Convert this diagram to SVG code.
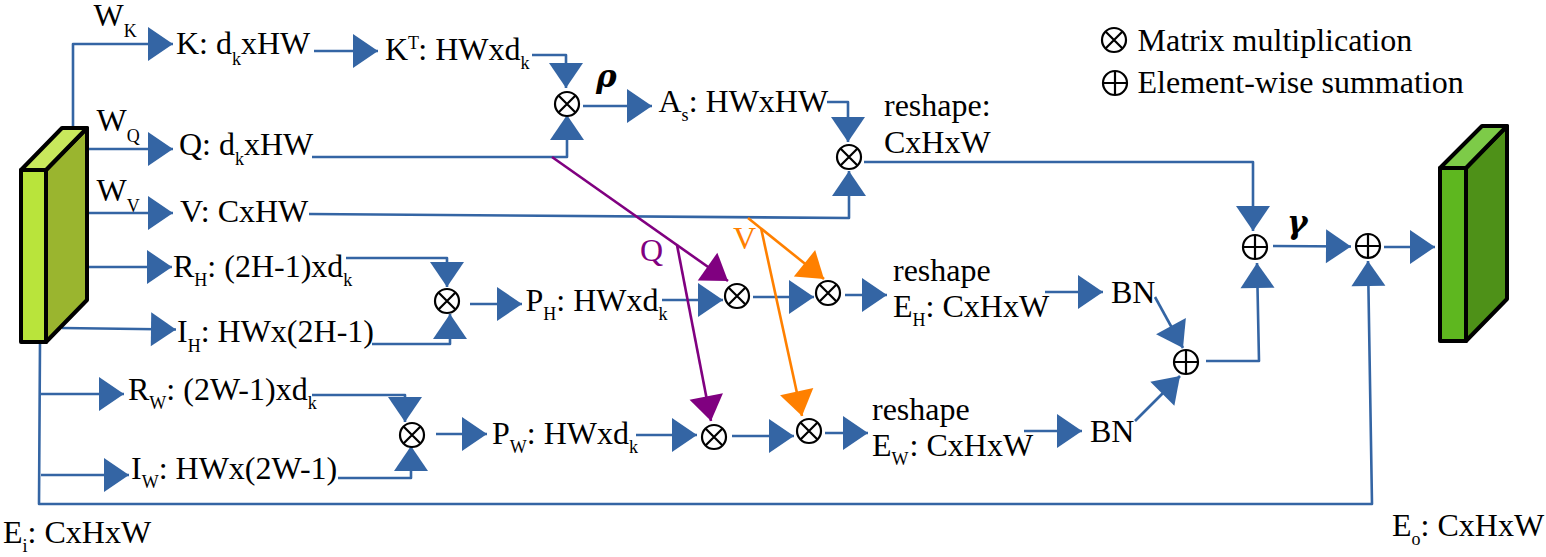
<svg xmlns="http://www.w3.org/2000/svg" width="1546" height="557" viewBox="0 0 1546 557">
<style>
text{font-family:"Liberation Serif","Times New Roman",serif;font-size:32px;fill:#000}
.s{font-size:18px}
.greek{font-family:"DejaVu Serif",serif;font-weight:bold;font-style:italic;font-size:31px}
.c{fill:none;stroke:#3465a4;stroke-width:2.6;stroke-linejoin:round}
.p{fill:none;stroke:#800080;stroke-width:2.6}
.o{fill:none;stroke:#ff8000;stroke-width:2.6}
.ring{fill:#fff;stroke:#000;stroke-width:2.2}
.edge{stroke:#000;stroke-width:4;stroke-linejoin:round}
marker{overflow:visible}
</style>
<defs>
<marker id="ab" markerUnits="userSpaceOnUse" markerWidth="28" markerHeight="36" refX="25" refY="18" orient="auto"><path d="M0 1L25 18L0 35Z" fill="#3465a4"/></marker>
<marker id="ap" markerUnits="userSpaceOnUse" markerWidth="28" markerHeight="36" refX="25" refY="18" orient="auto"><path d="M0 1L25 18L0 35Z" fill="#800080"/></marker>
<marker id="ao" markerUnits="userSpaceOnUse" markerWidth="28" markerHeight="36" refX="25" refY="18" orient="auto"><path d="M0 1L25 18L0 35Z" fill="#ff8000"/></marker>
<g id="mul"><circle class="ring" r="12"/><path d="M-8.500 -8.500L8.500 8.500M-8.500 8.500L8.500 -8.500" stroke="#000" stroke-width="2.200" fill="none"/></g>
<g id="add"><circle class="ring" r="12"/><path d="M-12 0H12M0 -12V12" stroke="#000" stroke-width="2.200" fill="none"/></g>
</defs>
<rect width="1546" height="557" fill="#fff"/>
<g id="connectors">
<g marker-end="url(#ab)">
<path class="c" d="M73 128V44H173"/>
<path class="c" d="M314 51H378"/>
<path class="c" d="M88 149H173"/>
<path class="c" d="M88 213H173"/>
<path class="c" d="M88 267H172"/>
<path class="c" d="M62 328L176 329.500"/>
<path class="c" d="M41 394H124"/>
<path class="c" d="M41 475H129"/>
<path class="c" d="M40 342L39 504H1372L1368 261"/>
<path class="c" d="M346 258H447V287"/>
<path class="c" d="M372 344H450V314"/>
<path class="c" d="M312 395H405V422"/>
<path class="c" d="M338 478H411V446"/>
<path class="c" d="M532 55H566V88"/>
<path class="c" d="M312 157H567V115"/>
<path class="c" d="M583 106H652"/>
<path class="c" d="M827 102H848V142"/>
<path class="c" d="M309 214L849 218V171"/>
<path class="c" d="M864 162H1253V231"/>
<path class="c" d="M470 304H522"/>
<path class="c" d="M662 300H723"/>
<path class="c" d="M753 297H814"/>
<path class="c" d="M845 295H887"/>
<path class="c" d="M436 434H487"/>
<path class="c" d="M636 435H697"/>
<path class="c" d="M732 436H794"/>
<path class="c" d="M825 433H868"/>
<path class="c" d="M1045 292H1103"/>
<path class="c" d="M1024 431H1082"/>
<path class="c" d="M1155 297L1183 348"/>
<path class="c" d="M1135 421L1180 376"/>
<path class="c" d="M1206 361H1259L1257 263"/>
<path class="c" d="M1273 246L1351 246.500"/>
<path class="c" d="M1384 247H1435"/>
</g>
<path class="p" d="M552 157L728 281" marker-end="url(#ap)"/>
<path class="p" d="M677 245L711 421" marker-end="url(#ap)"/>
<path class="o" d="M748 218L824 279" marker-end="url(#ao)"/>
<path class="o" d="M761 228L802 416" marker-end="url(#ao)"/>
</g>
<g id="input-tensor">
<path class="edge" d="M46 170L87 128V300L46 342Z" fill="#9ab52f"/>
<path class="edge" d="M21 170L62 128H87L46 170Z" fill="#c8e85c"/>
<rect class="edge" x="21" y="170" width="25" height="172" fill="#b9e43b"/>
</g>
<g id="output-tensor">
<path class="edge" d="M1466 168L1507 126V299L1466 341Z" fill="#4e9118"/>
<path class="edge" d="M1440 168L1482 126H1507L1466 168Z" fill="#7dcb48"/>
<rect class="edge" x="1440" y="168" width="26" height="173" fill="#5eb71f"/>
</g>
<g id="mul1"><use href="#mul" x="567" y="104"/></g>
<g id="mul2"><use href="#mul" x="849" y="157"/></g>
<g id="mul3"><use href="#mul" x="447" y="301"/></g>
<g id="mul4"><use href="#mul" x="412" y="435"/></g>
<g id="mul5"><use href="#mul" x="737" y="296"/></g>
<g id="mul6"><use href="#mul" x="828" y="293"/></g>
<g id="mul7"><use href="#mul" x="714" y="437"/></g>
<g id="mul8"><use href="#mul" x="809" y="431"/></g>
<g id="add1"><use href="#add" x="1255" y="247"/></g>
<g id="add2"><use href="#add" x="1368" y="246"/></g>
<g id="add3"><use href="#add" x="1186" y="362"/></g>
<g id="weights">
<text x="93.500" y="26">W<tspan class="s" dy="11">K</tspan></text>
<text x="96.500" y="131">W<tspan class="s" dy="11">Q</tspan></text>
<text x="96.500" y="201">W<tspan class="s" dy="11">V</tspan></text>
</g>
<g id="node-K"><text x="176" y="54">K: d<tspan class="s" dy="11">k</tspan><tspan dy="-11">xHW</tspan></text></g>
<g id="node-KT"><text x="385" y="60">K<tspan class="s" dy="-11">T</tspan><tspan dy="11" dx="-0.800">: HWxd</tspan><tspan class="s" dy="9">k</tspan></text></g>
<g id="node-Q"><text x="179" y="155">Q: d<tspan class="s" dy="10">k</tspan><tspan dy="-10">xHW</tspan></text></g>
<g id="node-V"><text x="180" y="222">V: CxHW</text></g>
<g id="node-RH"><text x="173" y="277">R<tspan class="s" dy="9">H</tspan><tspan dy="-9">: (2H-1)xd</tspan><tspan class="s" dy="9">k</tspan></text></g>
<g id="node-IH"><text x="177" y="342">I<tspan class="s" dy="10">H</tspan><tspan dy="-10">: HWx(2H-1)</tspan></text></g>
<g id="node-RW"><text x="128" y="400">R<tspan class="s" dy="9">W</tspan><tspan dy="-9">: (2W-1)xd</tspan><tspan class="s" dy="9">k</tspan></text></g>
<g id="node-IW"><text x="131" y="479">I<tspan class="s" dy="9">W</tspan><tspan dy="-9">: HWx(2W-1)</tspan></text></g>
<g id="node-Ei"><text x="3" y="543">E<tspan class="s" dy="9">i</tspan><tspan dy="-9">: CxHxW</tspan></text></g>
<g id="node-PH"><text x="525.500" y="311">P<tspan class="s" dy="9">H</tspan><tspan dy="-9">: HWxd</tspan><tspan class="s" dy="9">k</tspan></text></g>
<g id="node-PW"><text x="492" y="444">P<tspan class="s" dy="9">W</tspan><tspan dy="-9">: HWxd</tspan><tspan class="s" dy="9">k</tspan></text></g>
<g id="node-As"><text x="658.500" y="112">A<tspan class="s" dy="9">s</tspan><tspan dy="-9">: HWxHW</tspan></text></g>
<g id="node-reshape"><text x="884" y="116">reshape:</text><text x="884" y="153">CxHxW</text></g>
<g id="node-EH"><text x="893" y="281">reshape</text><text x="893" y="317">E<tspan class="s" dy="9">H</tspan><tspan dy="-9">: CxHxW</tspan></text></g>
<g id="node-EW"><text x="872" y="420">reshape</text><text x="872" y="456">E<tspan class="s" dy="9">W</tspan><tspan dy="-9" dx="1">: CxHxW</tspan></text></g>
<g id="node-BN1"><text x="1111" y="303">BN</text></g>
<g id="node-BN2"><text x="1090" y="442">BN</text></g>
<g id="node-Eo"><text x="1392" y="536">E<tspan class="s" dy="9">o</tspan><tspan dy="-9">: CxHxW</tspan></text></g>
<text x="640" y="261" style="fill:#800080">Q</text>
<text x="733" y="249" style="fill:#ff8000">V</text>
<text class="greek" x="596" y="87">ρ</text>
<text class="greek" x="1287" y="233">γ</text>
<g id="legend">
<use href="#mul" x="1114" y="40"/><text x="1137.500" y="51">Matrix multiplication</text>
<use href="#add" x="1115" y="83"/><text x="1137.500" y="93">Element-wise summation</text>
</g>
</svg>
